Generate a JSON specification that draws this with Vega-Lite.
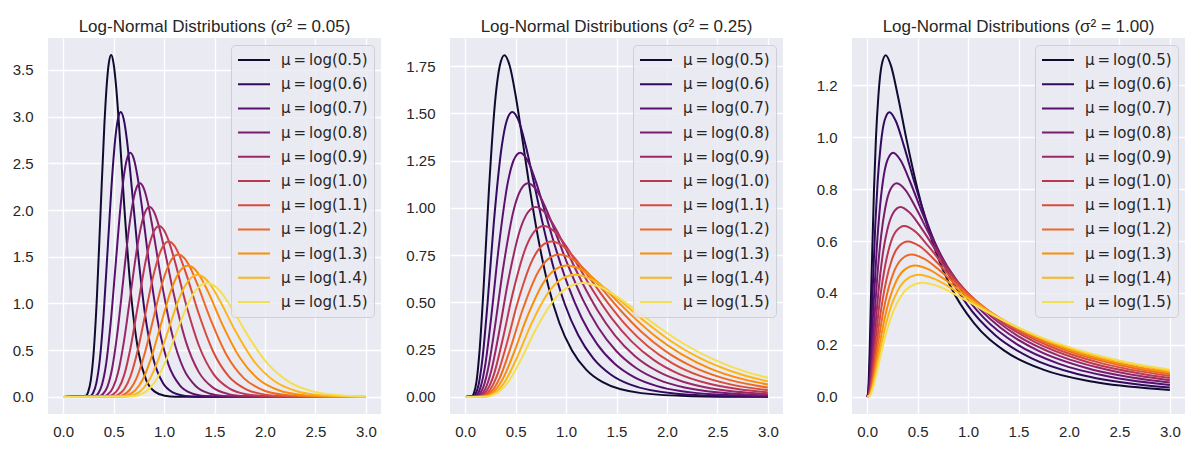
{
  "$schema": "https://vega.github.io/schema/vega-lite/v6.json",
  "background": "white",
  "padding": {"left": 12, "top": 18, "right": 5, "bottom": 5},
  "data": {
    "values": [
      {"p":1,"m":0.5,"x":0,"y":0},{"p":1,"m":0.5,"x":0.225,"y":0.013},{"p":1,"m":0.5,"x":0.248,"y":0.054},{"p":1,"m":0.5,"x":0.274,"y":0.178},{"p":1,"m":0.5,"x":0.303,"y":0.483},{"p":1,"m":0.5,"x":0.335,"y":1.075},{"p":1,"m":0.5,"x":0.370,"y":1.958},{"p":1,"m":0.5,"x":0.409,"y":2.921},{"p":1,"m":0.5,"x":0.430,"y":3.310},{"p":1,"m":0.5,"x":0.452,"y":3.568},{"p":1,"m":0.5,"x":0.476,"y":3.659},{"p":1,"m":0.5,"x":0.5,"y":3.568},{"p":1,"m":0.5,"x":0.526,"y":3.310},{"p":1,"m":0.5,"x":0.553,"y":2.921},{"p":1,"m":0.5,"x":0.611,"y":1.958},{"p":1,"m":0.5,"x":0.675,"y":1.075},{"p":1,"m":0.5,"x":0.746,"y":0.483},{"p":1,"m":0.5,"x":0.824,"y":0.178},{"p":1,"m":0.5,"x":0.911,"y":0.054},{"p":1,"m":0.5,"x":1.007,"y":0.013},{"p":1,"m":0.5,"x":1.113,"y":0.003},{"p":1,"m":0.5,"x":3,"y":0},
      {"p":1,"m":0.6,"x":0,"y":0},{"p":1,"m":0.6,"x":0.270,"y":0.011},{"p":1,"m":0.6,"x":0.298,"y":0.045},{"p":1,"m":0.6,"x":0.329,"y":0.148},{"p":1,"m":0.6,"x":0.364,"y":0.403},{"p":1,"m":0.6,"x":0.402,"y":0.896},{"p":1,"m":0.6,"x":0.444,"y":1.632},{"p":1,"m":0.6,"x":0.491,"y":2.435},{"p":1,"m":0.6,"x":0.516,"y":2.759},{"p":1,"m":0.6,"x":0.543,"y":2.974},{"p":1,"m":0.6,"x":0.571,"y":3.049},{"p":1,"m":0.6,"x":0.6,"y":2.974},{"p":1,"m":0.6,"x":0.631,"y":2.759},{"p":1,"m":0.6,"x":0.663,"y":2.435},{"p":1,"m":0.6,"x":0.733,"y":1.632},{"p":1,"m":0.6,"x":0.810,"y":0.896},{"p":1,"m":0.6,"x":0.895,"y":0.403},{"p":1,"m":0.6,"x":0.989,"y":0.148},{"p":1,"m":0.6,"x":1.093,"y":0.045},{"p":1,"m":0.6,"x":1.208,"y":0.011},{"p":1,"m":0.6,"x":1.335,"y":0.002},{"p":1,"m":0.6,"x":3,"y":0},
      {"p":1,"m":0.7,"x":0,"y":0},{"p":1,"m":0.7,"x":0.315,"y":0.009},{"p":1,"m":0.7,"x":0.348,"y":0.038},{"p":1,"m":0.7,"x":0.384,"y":0.127},{"p":1,"m":0.7,"x":0.425,"y":0.345},{"p":1,"m":0.7,"x":0.469,"y":0.768},{"p":1,"m":0.7,"x":0.519,"y":1.399},{"p":1,"m":0.7,"x":0.573,"y":2.087},{"p":1,"m":0.7,"x":0.602,"y":2.365},{"p":1,"m":0.7,"x":0.633,"y":2.549},{"p":1,"m":0.7,"x":0.666,"y":2.613},{"p":1,"m":0.7,"x":0.7,"y":2.549},{"p":1,"m":0.7,"x":0.736,"y":2.365},{"p":1,"m":0.7,"x":0.774,"y":2.087},{"p":1,"m":0.7,"x":0.855,"y":1.399},{"p":1,"m":0.7,"x":0.945,"y":0.768},{"p":1,"m":0.7,"x":1.044,"y":0.345},{"p":1,"m":0.7,"x":1.154,"y":0.127},{"p":1,"m":0.7,"x":1.275,"y":0.038},{"p":1,"m":0.7,"x":1.410,"y":0.009},{"p":1,"m":0.7,"x":1.558,"y":0.002},{"p":1,"m":0.7,"x":3,"y":0},
      {"p":1,"m":0.8,"x":0,"y":0},{"p":1,"m":0.8,"x":0.359,"y":0.008},{"p":1,"m":0.8,"x":0.397,"y":0.034},{"p":1,"m":0.8,"x":0.439,"y":0.111},{"p":1,"m":0.8,"x":0.485,"y":0.302},{"p":1,"m":0.8,"x":0.536,"y":0.672},{"p":1,"m":0.8,"x":0.593,"y":1.224},{"p":1,"m":0.8,"x":0.655,"y":1.826},{"p":1,"m":0.8,"x":0.689,"y":2.069},{"p":1,"m":0.8,"x":0.724,"y":2.230},{"p":1,"m":0.8,"x":0.761,"y":2.287},{"p":1,"m":0.8,"x":0.8,"y":2.230},{"p":1,"m":0.8,"x":0.841,"y":2.069},{"p":1,"m":0.8,"x":0.884,"y":1.826},{"p":1,"m":0.8,"x":0.977,"y":1.224},{"p":1,"m":0.8,"x":1.080,"y":0.672},{"p":1,"m":0.8,"x":1.193,"y":0.302},{"p":1,"m":0.8,"x":1.319,"y":0.111},{"p":1,"m":0.8,"x":1.458,"y":0.034},{"p":1,"m":0.8,"x":1.611,"y":0.008},{"p":1,"m":0.8,"x":1.780,"y":0.002},{"p":1,"m":0.8,"x":3,"y":0},
      {"p":1,"m":0.9,"x":0,"y":0},{"p":1,"m":0.9,"x":0.404,"y":0.007},{"p":1,"m":0.9,"x":0.447,"y":0.030},{"p":1,"m":0.9,"x":0.494,"y":0.099},{"p":1,"m":0.9,"x":0.546,"y":0.268},{"p":1,"m":0.9,"x":0.603,"y":0.597},{"p":1,"m":0.9,"x":0.667,"y":1.088},{"p":1,"m":0.9,"x":0.737,"y":1.623},{"p":1,"m":0.9,"x":0.775,"y":1.839},{"p":1,"m":0.9,"x":0.814,"y":1.982},{"p":1,"m":0.9,"x":0.856,"y":2.033},{"p":1,"m":0.9,"x":0.9,"y":1.982},{"p":1,"m":0.9,"x":0.946,"y":1.839},{"p":1,"m":0.9,"x":0.995,"y":1.623},{"p":1,"m":0.9,"x":1.099,"y":1.088},{"p":1,"m":0.9,"x":1.215,"y":0.597},{"p":1,"m":0.9,"x":1.343,"y":0.268},{"p":1,"m":0.9,"x":1.484,"y":0.099},{"p":1,"m":0.9,"x":1.640,"y":0.030},{"p":1,"m":0.9,"x":1.812,"y":0.007},{"p":1,"m":0.9,"x":2.003,"y":0.001},{"p":1,"m":0.9,"x":3,"y":0},
      {"p":1,"m":1.0,"x":0,"y":0},{"p":1,"m":1.0,"x":0.449,"y":0.007},{"p":1,"m":1.0,"x":0.497,"y":0.027},{"p":1,"m":1.0,"x":0.549,"y":0.089},{"p":1,"m":1.0,"x":0.607,"y":0.241},{"p":1,"m":1.0,"x":0.670,"y":0.537},{"p":1,"m":1.0,"x":0.741,"y":0.979},{"p":1,"m":1.0,"x":0.819,"y":1.461},{"p":1,"m":1.0,"x":0.861,"y":1.655},{"p":1,"m":1.0,"x":0.905,"y":1.784},{"p":1,"m":1.0,"x":0.951,"y":1.829},{"p":1,"m":1.0,"x":1,"y":1.784},{"p":1,"m":1.0,"x":1.051,"y":1.655},{"p":1,"m":1.0,"x":1.105,"y":1.461},{"p":1,"m":1.0,"x":1.221,"y":0.979},{"p":1,"m":1.0,"x":1.350,"y":0.537},{"p":1,"m":1.0,"x":1.492,"y":0.241},{"p":1,"m":1.0,"x":1.649,"y":0.089},{"p":1,"m":1.0,"x":1.822,"y":0.027},{"p":1,"m":1.0,"x":2.014,"y":0.007},{"p":1,"m":1.0,"x":2.226,"y":0.001},{"p":1,"m":1.0,"x":3,"y":0},
      {"p":1,"m":1.1,"x":0,"y":0},{"p":1,"m":1.1,"x":0.494,"y":0.006},{"p":1,"m":1.1,"x":0.546,"y":0.024},{"p":1,"m":1.1,"x":0.604,"y":0.081},{"p":1,"m":1.1,"x":0.667,"y":0.220},{"p":1,"m":1.1,"x":0.737,"y":0.489},{"p":1,"m":1.1,"x":0.815,"y":0.890},{"p":1,"m":1.1,"x":0.901,"y":1.328},{"p":1,"m":1.1,"x":0.947,"y":1.505},{"p":1,"m":1.1,"x":0.995,"y":1.622},{"p":1,"m":1.1,"x":1.046,"y":1.663},{"p":1,"m":1.1,"x":1.1,"y":1.622},{"p":1,"m":1.1,"x":1.156,"y":1.505},{"p":1,"m":1.1,"x":1.216,"y":1.328},{"p":1,"m":1.1,"x":1.344,"y":0.890},{"p":1,"m":1.1,"x":1.485,"y":0.489},{"p":1,"m":1.1,"x":1.641,"y":0.220},{"p":1,"m":1.1,"x":1.814,"y":0.081},{"p":1,"m":1.1,"x":2.004,"y":0.024},{"p":1,"m":1.1,"x":2.215,"y":0.006},{"p":1,"m":1.1,"x":2.448,"y":0.001},{"p":1,"m":1.1,"x":3,"y":0},
      {"p":1,"m":1.2,"x":0,"y":0},{"p":1,"m":1.2,"x":0.539,"y":0.006},{"p":1,"m":1.2,"x":0.596,"y":0.022},{"p":1,"m":1.2,"x":0.659,"y":0.074},{"p":1,"m":1.2,"x":0.728,"y":0.201},{"p":1,"m":1.2,"x":0.804,"y":0.448},{"p":1,"m":1.2,"x":0.889,"y":0.816},{"p":1,"m":1.2,"x":0.982,"y":1.217},{"p":1,"m":1.2,"x":1.033,"y":1.379},{"p":1,"m":1.2,"x":1.086,"y":1.487},{"p":1,"m":1.2,"x":1.141,"y":1.524},{"p":1,"m":1.2,"x":1.2,"y":1.487},{"p":1,"m":1.2,"x":1.262,"y":1.379},{"p":1,"m":1.2,"x":1.326,"y":1.217},{"p":1,"m":1.2,"x":1.466,"y":0.816},{"p":1,"m":1.2,"x":1.620,"y":0.448},{"p":1,"m":1.2,"x":1.790,"y":0.201},{"p":1,"m":1.2,"x":1.978,"y":0.074},{"p":1,"m":1.2,"x":2.187,"y":0.022},{"p":1,"m":1.2,"x":2.417,"y":0.006},{"p":1,"m":1.2,"x":2.671,"y":0.001},{"p":1,"m":1.2,"x":3,"y":0},
      {"p":1,"m":1.3,"x":0,"y":0},{"p":1,"m":1.3,"x":0.584,"y":0.005},{"p":1,"m":1.3,"x":0.646,"y":0.021},{"p":1,"m":1.3,"x":0.713,"y":0.068},{"p":1,"m":1.3,"x":0.789,"y":0.186},{"p":1,"m":1.3,"x":0.871,"y":0.413},{"p":1,"m":1.3,"x":0.963,"y":0.753},{"p":1,"m":1.3,"x":1.064,"y":1.124},{"p":1,"m":1.3,"x":1.119,"y":1.273},{"p":1,"m":1.3,"x":1.176,"y":1.372},{"p":1,"m":1.3,"x":1.237,"y":1.407},{"p":1,"m":1.3,"x":1.3,"y":1.372},{"p":1,"m":1.3,"x":1.367,"y":1.273},{"p":1,"m":1.3,"x":1.437,"y":1.124},{"p":1,"m":1.3,"x":1.588,"y":0.753},{"p":1,"m":1.3,"x":1.755,"y":0.413},{"p":1,"m":1.3,"x":1.939,"y":0.186},{"p":1,"m":1.3,"x":2.143,"y":0.068},{"p":1,"m":1.3,"x":2.369,"y":0.021},{"p":1,"m":1.3,"x":2.618,"y":0.005},{"p":1,"m":1.3,"x":2.893,"y":0.001},{"p":1,"m":1.3,"x":3,"y":0.0005},
      {"p":1,"m":1.4,"x":0,"y":0},{"p":1,"m":1.4,"x":0.629,"y":0.005},{"p":1,"m":1.4,"x":0.695,"y":0.019},{"p":1,"m":1.4,"x":0.768,"y":0.063},{"p":1,"m":1.4,"x":0.849,"y":0.173},{"p":1,"m":1.4,"x":0.938,"y":0.384},{"p":1,"m":1.4,"x":1.037,"y":0.699},{"p":1,"m":1.4,"x":1.146,"y":1.043},{"p":1,"m":1.4,"x":1.205,"y":1.182},{"p":1,"m":1.4,"x":1.267,"y":1.274},{"p":1,"m":1.4,"x":1.332,"y":1.307},{"p":1,"m":1.4,"x":1.4,"y":1.274},{"p":1,"m":1.4,"x":1.472,"y":1.182},{"p":1,"m":1.4,"x":1.547,"y":1.043},{"p":1,"m":1.4,"x":1.710,"y":0.699},{"p":1,"m":1.4,"x":1.890,"y":0.384},{"p":1,"m":1.4,"x":2.089,"y":0.173},{"p":1,"m":1.4,"x":2.308,"y":0.063},{"p":1,"m":1.4,"x":2.551,"y":0.019},{"p":1,"m":1.4,"x":2.819,"y":0.005},{"p":1,"m":1.4,"x":3,"y":0.002},
      {"p":1,"m":1.5,"x":0,"y":0},{"p":1,"m":1.5,"x":0.674,"y":0.004},{"p":1,"m":1.5,"x":0.745,"y":0.018},{"p":1,"m":1.5,"x":0.823,"y":0.059},{"p":1,"m":1.5,"x":0.910,"y":0.161},{"p":1,"m":1.5,"x":1.006,"y":0.358},{"p":1,"m":1.5,"x":1.111,"y":0.653},{"p":1,"m":1.5,"x":1.228,"y":0.974},{"p":1,"m":1.5,"x":1.291,"y":1.104},{"p":1,"m":1.5,"x":1.357,"y":1.189},{"p":1,"m":1.5,"x":1.427,"y":1.220},{"p":1,"m":1.5,"x":1.5,"y":1.189},{"p":1,"m":1.5,"x":1.577,"y":1.104},{"p":1,"m":1.5,"x":1.658,"y":0.974},{"p":1,"m":1.5,"x":1.832,"y":0.653},{"p":1,"m":1.5,"x":2.025,"y":0.358},{"p":1,"m":1.5,"x":2.238,"y":0.161},{"p":1,"m":1.5,"x":2.473,"y":0.059},{"p":1,"m":1.5,"x":2.733,"y":0.018},{"p":1,"m":1.5,"x":3,"y":0.005},

      {"p":2,"m":0.5,"x":0,"y":0},{"p":2,"m":0.5,"x":0.068,"y":0.004},{"p":2,"m":0.5,"x":0.087,"y":0.020},{"p":2,"m":0.5,"x":0.112,"y":0.079},{"p":2,"m":0.5,"x":0.143,"y":0.245},{"p":2,"m":0.5,"x":0.184,"y":0.587},{"p":2,"m":0.5,"x":0.236,"y":1.097},{"p":2,"m":0.5,"x":0.303,"y":1.596},{"p":2,"m":0.5,"x":0.344,"y":1.753},{"p":2,"m":0.5,"x":0.389,"y":1.808},{"p":2,"m":0.5,"x":0.441,"y":1.753},{"p":2,"m":0.5,"x":0.5,"y":1.596},{"p":2,"m":0.5,"x":0.567,"y":1.365},{"p":2,"m":0.5,"x":0.642,"y":1.097},{"p":2,"m":0.5,"x":0.728,"y":0.828},{"p":2,"m":0.5,"x":0.824,"y":0.587},{"p":2,"m":0.5,"x":0.934,"y":0.391},{"p":2,"m":0.5,"x":1.059,"y":0.245},{"p":2,"m":0.5,"x":1.199,"y":0.144},{"p":2,"m":0.5,"x":1.359,"y":0.079},{"p":2,"m":0.5,"x":1.745,"y":0.020},{"p":2,"m":0.5,"x":2.241,"y":0.004},{"p":2,"m":0.5,"x":2.877,"y":0.0006},{"p":2,"m":0.5,"x":3,"y":0.0004},
      {"p":2,"m":0.6,"x":0,"y":0},{"p":2,"m":0.6,"x":0.081,"y":0.003},{"p":2,"m":0.6,"x":0.104,"y":0.017},{"p":2,"m":0.6,"x":0.134,"y":0.066},{"p":2,"m":0.6,"x":0.172,"y":0.204},{"p":2,"m":0.6,"x":0.221,"y":0.489},{"p":2,"m":0.6,"x":0.283,"y":0.914},{"p":2,"m":0.6,"x":0.364,"y":1.330},{"p":2,"m":0.6,"x":0.412,"y":1.461},{"p":2,"m":0.6,"x":0.467,"y":1.507},{"p":2,"m":0.6,"x":0.530,"y":1.461},{"p":2,"m":0.6,"x":0.6,"y":1.330},{"p":2,"m":0.6,"x":0.680,"y":1.137},{"p":2,"m":0.6,"x":0.770,"y":0.914},{"p":2,"m":0.6,"x":0.873,"y":0.690},{"p":2,"m":0.6,"x":0.989,"y":0.489},{"p":2,"m":0.6,"x":1.121,"y":0.326},{"p":2,"m":0.6,"x":1.270,"y":0.204},{"p":2,"m":0.6,"x":1.439,"y":0.120},{"p":2,"m":0.6,"x":1.631,"y":0.066},{"p":2,"m":0.6,"x":2.094,"y":0.017},{"p":2,"m":0.6,"x":2.689,"y":0.003},{"p":2,"m":0.6,"x":3,"y":0.0015},
      {"p":2,"m":0.7,"x":0,"y":0},{"p":2,"m":0.7,"x":0.095,"y":0.003},{"p":2,"m":0.7,"x":0.122,"y":0.014},{"p":2,"m":0.7,"x":0.156,"y":0.057},{"p":2,"m":0.7,"x":0.201,"y":0.175},{"p":2,"m":0.7,"x":0.258,"y":0.419},{"p":2,"m":0.7,"x":0.331,"y":0.783},{"p":2,"m":0.7,"x":0.425,"y":1.140},{"p":2,"m":0.7,"x":0.481,"y":1.252},{"p":2,"m":0.7,"x":0.545,"y":1.292},{"p":2,"m":0.7,"x":0.618,"y":1.252},{"p":2,"m":0.7,"x":0.7,"y":1.140},{"p":2,"m":0.7,"x":0.793,"y":0.975},{"p":2,"m":0.7,"x":0.899,"y":0.783},{"p":2,"m":0.7,"x":1.018,"y":0.591},{"p":2,"m":0.7,"x":1.154,"y":0.419},{"p":2,"m":0.7,"x":1.308,"y":0.279},{"p":2,"m":0.7,"x":1.482,"y":0.175},{"p":2,"m":0.7,"x":1.679,"y":0.103},{"p":2,"m":0.7,"x":1.903,"y":0.057},{"p":2,"m":0.7,"x":2.443,"y":0.014},{"p":2,"m":0.7,"x":3,"y":0.0039},
      {"p":2,"m":0.8,"x":0,"y":0},{"p":2,"m":0.8,"x":0.108,"y":0.0025},{"p":2,"m":0.8,"x":0.139,"y":0.013},{"p":2,"m":0.8,"x":0.179,"y":0.050},{"p":2,"m":0.8,"x":0.229,"y":0.153},{"p":2,"m":0.8,"x":0.294,"y":0.367},{"p":2,"m":0.8,"x":0.378,"y":0.686},{"p":2,"m":0.8,"x":0.485,"y":0.997},{"p":2,"m":0.8,"x":0.550,"y":1.095},{"p":2,"m":0.8,"x":0.623,"y":1.130},{"p":2,"m":0.8,"x":0.706,"y":1.095},{"p":2,"m":0.8,"x":0.8,"y":0.997},{"p":2,"m":0.8,"x":0.907,"y":0.853},{"p":2,"m":0.8,"x":1.027,"y":0.686},{"p":2,"m":0.8,"x":1.164,"y":0.517},{"p":2,"m":0.8,"x":1.319,"y":0.367},{"p":2,"m":0.8,"x":1.495,"y":0.244},{"p":2,"m":0.8,"x":1.694,"y":0.153},{"p":2,"m":0.8,"x":1.919,"y":0.090},{"p":2,"m":0.8,"x":2.175,"y":0.050},{"p":2,"m":0.8,"x":2.792,"y":0.013},{"p":2,"m":0.8,"x":3,"y":0.0081},
      {"p":2,"m":0.9,"x":0,"y":0},{"p":2,"m":0.9,"x":0.122,"y":0.002},{"p":2,"m":0.9,"x":0.156,"y":0.011},{"p":2,"m":0.9,"x":0.201,"y":0.044},{"p":2,"m":0.9,"x":0.258,"y":0.136},{"p":2,"m":0.9,"x":0.331,"y":0.326},{"p":2,"m":0.9,"x":0.425,"y":0.609},{"p":2,"m":0.9,"x":0.546,"y":0.887},{"p":2,"m":0.9,"x":0.619,"y":0.974},{"p":2,"m":0.9,"x":0.701,"y":1.005},{"p":2,"m":0.9,"x":0.794,"y":0.974},{"p":2,"m":0.9,"x":0.9,"y":0.887},{"p":2,"m":0.9,"x":1.020,"y":0.758},{"p":2,"m":0.9,"x":1.156,"y":0.609},{"p":2,"m":0.9,"x":1.310,"y":0.460},{"p":2,"m":0.9,"x":1.484,"y":0.326},{"p":2,"m":0.9,"x":1.681,"y":0.217},{"p":2,"m":0.9,"x":1.905,"y":0.136},{"p":2,"m":0.9,"x":2.159,"y":0.080},{"p":2,"m":0.9,"x":2.447,"y":0.044},{"p":2,"m":0.9,"x":3,"y":0.0147},
      {"p":2,"m":1.0,"x":0,"y":0},{"p":2,"m":1.0,"x":0.135,"y":0.002},{"p":2,"m":1.0,"x":0.174,"y":0.010},{"p":2,"m":1.0,"x":0.223,"y":0.040},{"p":2,"m":1.0,"x":0.287,"y":0.122},{"p":2,"m":1.0,"x":0.368,"y":0.294},{"p":2,"m":1.0,"x":0.472,"y":0.548},{"p":2,"m":1.0,"x":0.607,"y":0.798},{"p":2,"m":1.0,"x":0.687,"y":0.876},{"p":2,"m":1.0,"x":0.779,"y":0.904},{"p":2,"m":1.0,"x":0.882,"y":0.876},{"p":2,"m":1.0,"x":1,"y":0.798},{"p":2,"m":1.0,"x":1.133,"y":0.682},{"p":2,"m":1.0,"x":1.284,"y":0.548},{"p":2,"m":1.0,"x":1.455,"y":0.414},{"p":2,"m":1.0,"x":1.649,"y":0.294},{"p":2,"m":1.0,"x":1.868,"y":0.196},{"p":2,"m":1.0,"x":2.117,"y":0.122},{"p":2,"m":1.0,"x":2.399,"y":0.072},{"p":2,"m":1.0,"x":2.718,"y":0.040},{"p":2,"m":1.0,"x":3,"y":0.0238},
      {"p":2,"m":1.1,"x":0,"y":0},{"p":2,"m":1.1,"x":0.149,"y":0.0018},{"p":2,"m":1.1,"x":0.191,"y":0.009},{"p":2,"m":1.1,"x":0.245,"y":0.036},{"p":2,"m":1.1,"x":0.315,"y":0.111},{"p":2,"m":1.1,"x":0.405,"y":0.267},{"p":2,"m":1.1,"x":0.520,"y":0.499},{"p":2,"m":1.1,"x":0.667,"y":0.725},{"p":2,"m":1.1,"x":0.756,"y":0.797},{"p":2,"m":1.1,"x":0.857,"y":0.822},{"p":2,"m":1.1,"x":0.971,"y":0.797},{"p":2,"m":1.1,"x":1.1,"y":0.725},{"p":2,"m":1.1,"x":1.246,"y":0.620},{"p":2,"m":1.1,"x":1.412,"y":0.499},{"p":2,"m":1.1,"x":1.600,"y":0.376},{"p":2,"m":1.1,"x":1.814,"y":0.267},{"p":2,"m":1.1,"x":2.055,"y":0.178},{"p":2,"m":1.1,"x":2.329,"y":0.111},{"p":2,"m":1.1,"x":2.639,"y":0.065},{"p":2,"m":1.1,"x":3,"y":0.0355},
      {"p":2,"m":1.2,"x":0,"y":0},{"p":2,"m":1.2,"x":0.162,"y":0.0016},{"p":2,"m":1.2,"x":0.209,"y":0.008},{"p":2,"m":1.2,"x":0.268,"y":0.033},{"p":2,"m":1.2,"x":0.344,"y":0.102},{"p":2,"m":1.2,"x":0.441,"y":0.245},{"p":2,"m":1.2,"x":0.567,"y":0.457},{"p":2,"m":1.2,"x":0.728,"y":0.665},{"p":2,"m":1.2,"x":0.825,"y":0.730},{"p":2,"m":1.2,"x":0.935,"y":0.753},{"p":2,"m":1.2,"x":1.059,"y":0.730},{"p":2,"m":1.2,"x":1.2,"y":0.665},{"p":2,"m":1.2,"x":1.360,"y":0.569},{"p":2,"m":1.2,"x":1.541,"y":0.457},{"p":2,"m":1.2,"x":1.746,"y":0.345},{"p":2,"m":1.2,"x":1.978,"y":0.245},{"p":2,"m":1.2,"x":2.242,"y":0.163},{"p":2,"m":1.2,"x":2.540,"y":0.102},{"p":2,"m":1.2,"x":2.879,"y":0.060},{"p":2,"m":1.2,"x":3,"y":0.0496},
      {"p":2,"m":1.3,"x":0,"y":0},{"p":2,"m":1.3,"x":0.176,"y":0.0015},{"p":2,"m":1.3,"x":0.226,"y":0.008},{"p":2,"m":1.3,"x":0.290,"y":0.031},{"p":2,"m":1.3,"x":0.372,"y":0.094},{"p":2,"m":1.3,"x":0.478,"y":0.226},{"p":2,"m":1.3,"x":0.614,"y":0.422},{"p":2,"m":1.3,"x":0.788,"y":0.614},{"p":2,"m":1.3,"x":0.893,"y":0.674},{"p":2,"m":1.3,"x":1.012,"y":0.695},{"p":2,"m":1.3,"x":1.147,"y":0.674},{"p":2,"m":1.3,"x":1.3,"y":0.614},{"p":2,"m":1.3,"x":1.473,"y":0.525},{"p":2,"m":1.3,"x":1.669,"y":0.422},{"p":2,"m":1.3,"x":1.891,"y":0.318},{"p":2,"m":1.3,"x":2.143,"y":0.226},{"p":2,"m":1.3,"x":2.429,"y":0.150},{"p":2,"m":1.3,"x":2.752,"y":0.094},{"p":2,"m":1.3,"x":3,"y":0.0657},
      {"p":2,"m":1.4,"x":0,"y":0},{"p":2,"m":1.4,"x":0.189,"y":0.0014},{"p":2,"m":1.4,"x":0.243,"y":0.007},{"p":2,"m":1.4,"x":0.312,"y":0.028},{"p":2,"m":1.4,"x":0.401,"y":0.087},{"p":2,"m":1.4,"x":0.515,"y":0.210},{"p":2,"m":1.4,"x":0.661,"y":0.392},{"p":2,"m":1.4,"x":0.849,"y":0.570},{"p":2,"m":1.4,"x":0.962,"y":0.626},{"p":2,"m":1.4,"x":1.090,"y":0.646},{"p":2,"m":1.4,"x":1.236,"y":0.626},{"p":2,"m":1.4,"x":1.4,"y":0.570},{"p":2,"m":1.4,"x":1.586,"y":0.487},{"p":2,"m":1.4,"x":1.798,"y":0.392},{"p":2,"m":1.4,"x":2.037,"y":0.296},{"p":2,"m":1.4,"x":2.308,"y":0.210},{"p":2,"m":1.4,"x":2.616,"y":0.140},{"p":2,"m":1.4,"x":2.964,"y":0.087},{"p":2,"m":1.4,"x":3,"y":0.0832},
      {"p":2,"m":1.5,"x":0,"y":0},{"p":2,"m":1.5,"x":0.203,"y":0.0013},{"p":2,"m":1.5,"x":0.261,"y":0.007},{"p":2,"m":1.5,"x":0.335,"y":0.027},{"p":2,"m":1.5,"x":0.430,"y":0.082},{"p":2,"m":1.5,"x":0.552,"y":0.196},{"p":2,"m":1.5,"x":0.709,"y":0.366},{"p":2,"m":1.5,"x":0.910,"y":0.532},{"p":2,"m":1.5,"x":1.031,"y":0.584},{"p":2,"m":1.5,"x":1.168,"y":0.603},{"p":2,"m":1.5,"x":1.324,"y":0.584},{"p":2,"m":1.5,"x":1.5,"y":0.532},{"p":2,"m":1.5,"x":1.700,"y":0.455},{"p":2,"m":1.5,"x":1.926,"y":0.366},{"p":2,"m":1.5,"x":2.182,"y":0.276},{"p":2,"m":1.5,"x":2.473,"y":0.196},{"p":2,"m":1.5,"x":2.802,"y":0.130},{"p":2,"m":1.5,"x":3,"y":0.1017},

      {"p":3,"m":0.5,"x":0,"y":0},{"p":3,"m":0.5,"x":0.009,"y":0.015},{"p":3,"m":0.5,"x":0.015,"y":0.058},{"p":3,"m":0.5,"x":0.025,"y":0.178},{"p":3,"m":0.5,"x":0.041,"y":0.427},{"p":3,"m":0.5,"x":0.068,"y":0.798},{"p":3,"m":0.5,"x":0.087,"y":0.993},{"p":3,"m":0.5,"x":0.112,"y":1.161},{"p":3,"m":0.5,"x":0.143,"y":1.275},{"p":3,"m":0.5,"x":0.184,"y":1.315},{"p":3,"m":0.5,"x":0.236,"y":1.275},{"p":3,"m":0.5,"x":0.303,"y":1.161},{"p":3,"m":0.5,"x":0.389,"y":0.993},{"p":3,"m":0.5,"x":0.5,"y":0.798},{"p":3,"m":0.5,"x":0.642,"y":0.602},{"p":3,"m":0.5,"x":0.824,"y":0.427},{"p":3,"m":0.5,"x":1.059,"y":0.284},{"p":3,"m":0.5,"x":1.359,"y":0.178},{"p":3,"m":0.5,"x":1.745,"y":0.105},{"p":3,"m":0.5,"x":2.241,"y":0.058},{"p":3,"m":0.5,"x":2.877,"y":0.030},{"p":3,"m":0.5,"x":3,"y":0.0267},
      {"p":3,"m":0.6,"x":0,"y":0},{"p":3,"m":0.6,"x":0.011,"y":0.012},{"p":3,"m":0.6,"x":0.018,"y":0.048},{"p":3,"m":0.6,"x":0.030,"y":0.148},{"p":3,"m":0.6,"x":0.049,"y":0.356},{"p":3,"m":0.6,"x":0.081,"y":0.665},{"p":3,"m":0.6,"x":0.104,"y":0.828},{"p":3,"m":0.6,"x":0.134,"y":0.967},{"p":3,"m":0.6,"x":0.172,"y":1.063},{"p":3,"m":0.6,"x":0.221,"y":1.096},{"p":3,"m":0.6,"x":0.283,"y":1.063},{"p":3,"m":0.6,"x":0.364,"y":0.967},{"p":3,"m":0.6,"x":0.467,"y":0.828},{"p":3,"m":0.6,"x":0.6,"y":0.665},{"p":3,"m":0.6,"x":0.770,"y":0.502},{"p":3,"m":0.6,"x":0.989,"y":0.356},{"p":3,"m":0.6,"x":1.270,"y":0.237},{"p":3,"m":0.6,"x":1.631,"y":0.148},{"p":3,"m":0.6,"x":2.094,"y":0.087},{"p":3,"m":0.6,"x":2.689,"y":0.048},{"p":3,"m":0.6,"x":3,"y":0.0364},
      {"p":3,"m":0.7,"x":0,"y":0},{"p":3,"m":0.7,"x":0.013,"y":0.010},{"p":3,"m":0.7,"x":0.021,"y":0.041},{"p":3,"m":0.7,"x":0.035,"y":0.127},{"p":3,"m":0.7,"x":0.057,"y":0.305},{"p":3,"m":0.7,"x":0.095,"y":0.570},{"p":3,"m":0.7,"x":0.122,"y":0.709},{"p":3,"m":0.7,"x":0.156,"y":0.829},{"p":3,"m":0.7,"x":0.201,"y":0.911},{"p":3,"m":0.7,"x":0.258,"y":0.940},{"p":3,"m":0.7,"x":0.331,"y":0.911},{"p":3,"m":0.7,"x":0.425,"y":0.829},{"p":3,"m":0.7,"x":0.545,"y":0.709},{"p":3,"m":0.7,"x":0.7,"y":0.570},{"p":3,"m":0.7,"x":0.899,"y":0.430},{"p":3,"m":0.7,"x":1.154,"y":0.305},{"p":3,"m":0.7,"x":1.482,"y":0.203},{"p":3,"m":0.7,"x":1.903,"y":0.127},{"p":3,"m":0.7,"x":2.443,"y":0.075},{"p":3,"m":0.7,"x":3,"y":0.0461},
      {"p":3,"m":0.8,"x":0,"y":0},{"p":3,"m":0.8,"x":0.015,"y":0.009},{"p":3,"m":0.8,"x":0.024,"y":0.036},{"p":3,"m":0.8,"x":0.040,"y":0.111},{"p":3,"m":0.8,"x":0.066,"y":0.267},{"p":3,"m":0.8,"x":0.108,"y":0.499},{"p":3,"m":0.8,"x":0.139,"y":0.621},{"p":3,"m":0.8,"x":0.179,"y":0.726},{"p":3,"m":0.8,"x":0.229,"y":0.797},{"p":3,"m":0.8,"x":0.294,"y":0.822},{"p":3,"m":0.8,"x":0.378,"y":0.797},{"p":3,"m":0.8,"x":0.485,"y":0.726},{"p":3,"m":0.8,"x":0.623,"y":0.621},{"p":3,"m":0.8,"x":0.8,"y":0.499},{"p":3,"m":0.8,"x":1.027,"y":0.376},{"p":3,"m":0.8,"x":1.319,"y":0.267},{"p":3,"m":0.8,"x":1.694,"y":0.178},{"p":3,"m":0.8,"x":2.175,"y":0.111},{"p":3,"m":0.8,"x":2.792,"y":0.065},{"p":3,"m":0.8,"x":3,"y":0.0555},
      {"p":3,"m":0.9,"x":0,"y":0},{"p":3,"m":0.9,"x":0.016,"y":0.008},{"p":3,"m":0.9,"x":0.027,"y":0.032},{"p":3,"m":0.9,"x":0.045,"y":0.099},{"p":3,"m":0.9,"x":0.074,"y":0.237},{"p":3,"m":0.9,"x":0.122,"y":0.443},{"p":3,"m":0.9,"x":0.156,"y":0.552},{"p":3,"m":0.9,"x":0.201,"y":0.645},{"p":3,"m":0.9,"x":0.258,"y":0.708},{"p":3,"m":0.9,"x":0.331,"y":0.731},{"p":3,"m":0.9,"x":0.425,"y":0.708},{"p":3,"m":0.9,"x":0.546,"y":0.645},{"p":3,"m":0.9,"x":0.701,"y":0.552},{"p":3,"m":0.9,"x":0.9,"y":0.443},{"p":3,"m":0.9,"x":1.156,"y":0.335},{"p":3,"m":0.9,"x":1.484,"y":0.237},{"p":3,"m":0.9,"x":1.905,"y":0.158},{"p":3,"m":0.9,"x":2.447,"y":0.099},{"p":3,"m":0.9,"x":3,"y":0.0644},
      {"p":3,"m":1.0,"x":0,"y":0},{"p":3,"m":1.0,"x":0.018,"y":0.007},{"p":3,"m":1.0,"x":0.030,"y":0.029},{"p":3,"m":1.0,"x":0.050,"y":0.089},{"p":3,"m":1.0,"x":0.082,"y":0.214},{"p":3,"m":1.0,"x":0.135,"y":0.399},{"p":3,"m":1.0,"x":0.174,"y":0.496},{"p":3,"m":1.0,"x":0.223,"y":0.580},{"p":3,"m":1.0,"x":0.287,"y":0.638},{"p":3,"m":1.0,"x":0.368,"y":0.658},{"p":3,"m":1.0,"x":0.472,"y":0.638},{"p":3,"m":1.0,"x":0.607,"y":0.580},{"p":3,"m":1.0,"x":0.779,"y":0.496},{"p":3,"m":1.0,"x":1,"y":0.399},{"p":3,"m":1.0,"x":1.284,"y":0.301},{"p":3,"m":1.0,"x":1.649,"y":0.214},{"p":3,"m":1.0,"x":2.117,"y":0.142},{"p":3,"m":1.0,"x":2.718,"y":0.089},{"p":3,"m":1.0,"x":3,"y":0.0727},
      {"p":3,"m":1.1,"x":0,"y":0},{"p":3,"m":1.1,"x":0.020,"y":0.0066},{"p":3,"m":1.1,"x":0.033,"y":0.026},{"p":3,"m":1.1,"x":0.055,"y":0.081},{"p":3,"m":1.1,"x":0.090,"y":0.194},{"p":3,"m":1.1,"x":0.149,"y":0.363},{"p":3,"m":1.1,"x":0.191,"y":0.451},{"p":3,"m":1.1,"x":0.245,"y":0.528},{"p":3,"m":1.1,"x":0.315,"y":0.580},{"p":3,"m":1.1,"x":0.405,"y":0.598},{"p":3,"m":1.1,"x":0.520,"y":0.580},{"p":3,"m":1.1,"x":0.667,"y":0.528},{"p":3,"m":1.1,"x":0.857,"y":0.451},{"p":3,"m":1.1,"x":1.1,"y":0.363},{"p":3,"m":1.1,"x":1.412,"y":0.274},{"p":3,"m":1.1,"x":1.814,"y":0.194},{"p":3,"m":1.1,"x":2.329,"y":0.129},{"p":3,"m":1.1,"x":3,"y":0.0804},
      {"p":3,"m":1.2,"x":0,"y":0},{"p":3,"m":1.2,"x":0.022,"y":0.0061},{"p":3,"m":1.2,"x":0.036,"y":0.024},{"p":3,"m":1.2,"x":0.060,"y":0.074},{"p":3,"m":1.2,"x":0.098,"y":0.178},{"p":3,"m":1.2,"x":0.162,"y":0.332},{"p":3,"m":1.2,"x":0.209,"y":0.414},{"p":3,"m":1.2,"x":0.268,"y":0.484},{"p":3,"m":1.2,"x":0.344,"y":0.531},{"p":3,"m":1.2,"x":0.441,"y":0.548},{"p":3,"m":1.2,"x":0.567,"y":0.531},{"p":3,"m":1.2,"x":0.728,"y":0.484},{"p":3,"m":1.2,"x":0.935,"y":0.414},{"p":3,"m":1.2,"x":1.2,"y":0.332},{"p":3,"m":1.2,"x":1.541,"y":0.251},{"p":3,"m":1.2,"x":1.978,"y":0.178},{"p":3,"m":1.2,"x":2.540,"y":0.119},{"p":3,"m":1.2,"x":3,"y":0.0874},
      {"p":3,"m":1.3,"x":0,"y":0},{"p":3,"m":1.3,"x":0.024,"y":0.0056},{"p":3,"m":1.3,"x":0.039,"y":0.022},{"p":3,"m":1.3,"x":0.065,"y":0.068},{"p":3,"m":1.3,"x":0.107,"y":0.164},{"p":3,"m":1.3,"x":0.176,"y":0.307},{"p":3,"m":1.3,"x":0.226,"y":0.382},{"p":3,"m":1.3,"x":0.290,"y":0.447},{"p":3,"m":1.3,"x":0.372,"y":0.490},{"p":3,"m":1.3,"x":0.478,"y":0.506},{"p":3,"m":1.3,"x":0.614,"y":0.490},{"p":3,"m":1.3,"x":0.788,"y":0.447},{"p":3,"m":1.3,"x":1.012,"y":0.382},{"p":3,"m":1.3,"x":1.3,"y":0.307},{"p":3,"m":1.3,"x":1.669,"y":0.232},{"p":3,"m":1.3,"x":2.143,"y":0.164},{"p":3,"m":1.3,"x":2.752,"y":0.109},{"p":3,"m":1.3,"x":3,"y":0.0937},
      {"p":3,"m":1.4,"x":0,"y":0},{"p":3,"m":1.4,"x":0.026,"y":0.0052},{"p":3,"m":1.4,"x":0.042,"y":0.021},{"p":3,"m":1.4,"x":0.070,"y":0.064},{"p":3,"m":1.4,"x":0.115,"y":0.153},{"p":3,"m":1.4,"x":0.189,"y":0.285},{"p":3,"m":1.4,"x":0.243,"y":0.355},{"p":3,"m":1.4,"x":0.312,"y":0.415},{"p":3,"m":1.4,"x":0.401,"y":0.455},{"p":3,"m":1.4,"x":0.515,"y":0.470},{"p":3,"m":1.4,"x":0.661,"y":0.455},{"p":3,"m":1.4,"x":0.849,"y":0.415},{"p":3,"m":1.4,"x":1.090,"y":0.355},{"p":3,"m":1.4,"x":1.4,"y":0.285},{"p":3,"m":1.4,"x":1.798,"y":0.215},{"p":3,"m":1.4,"x":2.308,"y":0.153},{"p":3,"m":1.4,"x":2.964,"y":0.102},{"p":3,"m":1.4,"x":3,"y":0.0995},
      {"p":3,"m":1.5,"x":0,"y":0},{"p":3,"m":1.5,"x":0.027,"y":0.0049},{"p":3,"m":1.5,"x":0.045,"y":0.019},{"p":3,"m":1.5,"x":0.075,"y":0.059},{"p":3,"m":1.5,"x":0.123,"y":0.142},{"p":3,"m":1.5,"x":0.203,"y":0.266},{"p":3,"m":1.5,"x":0.261,"y":0.331},{"p":3,"m":1.5,"x":0.335,"y":0.387},{"p":3,"m":1.5,"x":0.430,"y":0.425},{"p":3,"m":1.5,"x":0.552,"y":0.439},{"p":3,"m":1.5,"x":0.709,"y":0.425},{"p":3,"m":1.5,"x":0.910,"y":0.387},{"p":3,"m":1.5,"x":1.168,"y":0.331},{"p":3,"m":1.5,"x":1.5,"y":0.266},{"p":3,"m":1.5,"x":1.926,"y":0.201},{"p":3,"m":1.5,"x":2.473,"y":0.142},{"p":3,"m":1.5,"x":3,"y":0.1046}
    ]
  },
  "spacing": 69,
  "bounds": "flush",
  "resolve": {
    "scale": {"y": "independent"},
    "legend": {"color": "independent"}
  },
  "hconcat": [
    {
      "title": "Log-Normal Distributions (σ² = 0.05)",
      "width": 333,
      "height": 376,
      "transform": [{"filter": "datum.p == 1"}],
      "mark": {"type": "line", "strokeWidth": 2, "interpolate": "monotone"},
      "encoding": {
        "x": {"field": "x", "type": "quantitative", "scale": {"domain": [-0.15, 3.15], "nice": false, "zero": false}, "axis": {"title": null, "values": [0, 0.5, 1, 1.5, 2, 2.5, 3], "format": ".1f"}},
        "y": {"field": "y", "type": "quantitative", "scale": {"domain": [-0.183, 3.842], "nice": false, "zero": false}, "axis": {"title": null, "values": [0, 0.5, 1, 1.5, 2, 2.5, 3, 3.5], "format": ".1f"}},
        "color": {"field": "m", "type": "ordinal", "scale": {"domain": [0.5, 0.6, 0.7, 0.8, 0.9, 1.0, 1.1, 1.2, 1.3, 1.4, 1.5], "range": ["#110a30", "#320a5e", "#57106e", "#781c6d", "#9a2865", "#bc3754", "#d84c3e", "#ed6925", "#f98e09", "#fbb61a", "#f4df53"]}, "legend": {"title": null, "labelExpr": "'μ\u2009=\u2009log(' + format(datum.value, '.1f') + ')'"}}
      }
    },
    {
      "title": "Log-Normal Distributions (σ² = 0.25)",
      "width": 333,
      "height": 376,
      "transform": [{"filter": "datum.p == 2"}],
      "mark": {"type": "line", "strokeWidth": 2, "interpolate": "monotone"},
      "encoding": {
        "x": {"field": "x", "type": "quantitative", "scale": {"domain": [-0.15, 3.15], "nice": false, "zero": false}, "axis": {"title": null, "values": [0, 0.5, 1, 1.5, 2, 2.5, 3], "format": ".1f"}},
        "y": {"field": "y", "type": "quantitative", "scale": {"domain": [-0.0904, 1.8986], "nice": false, "zero": false}, "axis": {"title": null, "values": [0, 0.25, 0.5, 0.75, 1, 1.25, 1.5, 1.75], "format": ".2f"}},
        "color": {"field": "m", "type": "ordinal", "scale": {"domain": [0.5, 0.6, 0.7, 0.8, 0.9, 1.0, 1.1, 1.2, 1.3, 1.4, 1.5], "range": ["#110a30", "#320a5e", "#57106e", "#781c6d", "#9a2865", "#bc3754", "#d84c3e", "#ed6925", "#f98e09", "#fbb61a", "#f4df53"]}, "legend": {"title": null, "labelExpr": "'μ\u2009=\u2009log(' + format(datum.value, '.1f') + ')'"}}
      }
    },
    {
      "title": "Log-Normal Distributions (σ² = 1.00)",
      "width": 333,
      "height": 376,
      "transform": [{"filter": "datum.p == 3"}],
      "mark": {"type": "line", "strokeWidth": 2, "interpolate": "monotone"},
      "encoding": {
        "x": {"field": "x", "type": "quantitative", "scale": {"domain": [-0.15, 3.15], "nice": false, "zero": false}, "axis": {"title": null, "values": [0, 0.5, 1, 1.5, 2, 2.5, 3], "format": ".1f"}},
        "y": {"field": "y", "type": "quantitative", "scale": {"domain": [-0.0658, 1.3813], "nice": false, "zero": false}, "axis": {"title": null, "values": [0, 0.2, 0.4, 0.6, 0.8, 1, 1.2], "format": ".1f"}},
        "color": {"field": "m", "type": "ordinal", "scale": {"domain": [0.5, 0.6, 0.7, 0.8, 0.9, 1.0, 1.1, 1.2, 1.3, 1.4, 1.5], "range": ["#110a30", "#320a5e", "#57106e", "#781c6d", "#9a2865", "#bc3754", "#d84c3e", "#ed6925", "#f98e09", "#fbb61a", "#f4df53"]}, "legend": {"title": null, "labelExpr": "'μ\u2009=\u2009log(' + format(datum.value, '.1f') + ')'"}}
      }
    }
  ],
  "config": {
    "view": {"fill": "#EAEAF2", "stroke": null},
    "axis": {
      "grid": true,
      "gridColor": "#ffffff",
      "gridWidth": 1.3,
      "domain": false,
      "ticks": false,
      "tickSize": 0,
      "labelFont": "Liberation Sans",
      "labelFontSize": 15,
      "labelColor": "#262626"
    },
    "axisX": {"labelPadding": 10},
    "axisY": {"labelPadding": 15},
    "title": {
      "font": "Liberation Sans",
      "fontSize": 17,
      "fontWeight": "normal",
      "color": "#262626",
      "baseline": "alphabetic",
      "offset": 2
    },
    "legend": {
      "orient": "top-right",
      "offset": 7,
      "symbolType": "stroke",
      "symbolSize": 1024,
      "symbolStrokeWidth": 2,
      "labelFont": "DejaVu Sans",
      "labelFontSize": 15,
      "labelColor": "#262626",
      "labelOffset": 10,
      "labelLimit": 200,
      "fillColor": "rgba(234,234,242,0.8)",
      "strokeColor": "#cfcfd6",
      "cornerRadius": 4,
      "padding": 6,
      "rowPadding": 6.2,
      "clipHeight": 18
    }
  }
}
